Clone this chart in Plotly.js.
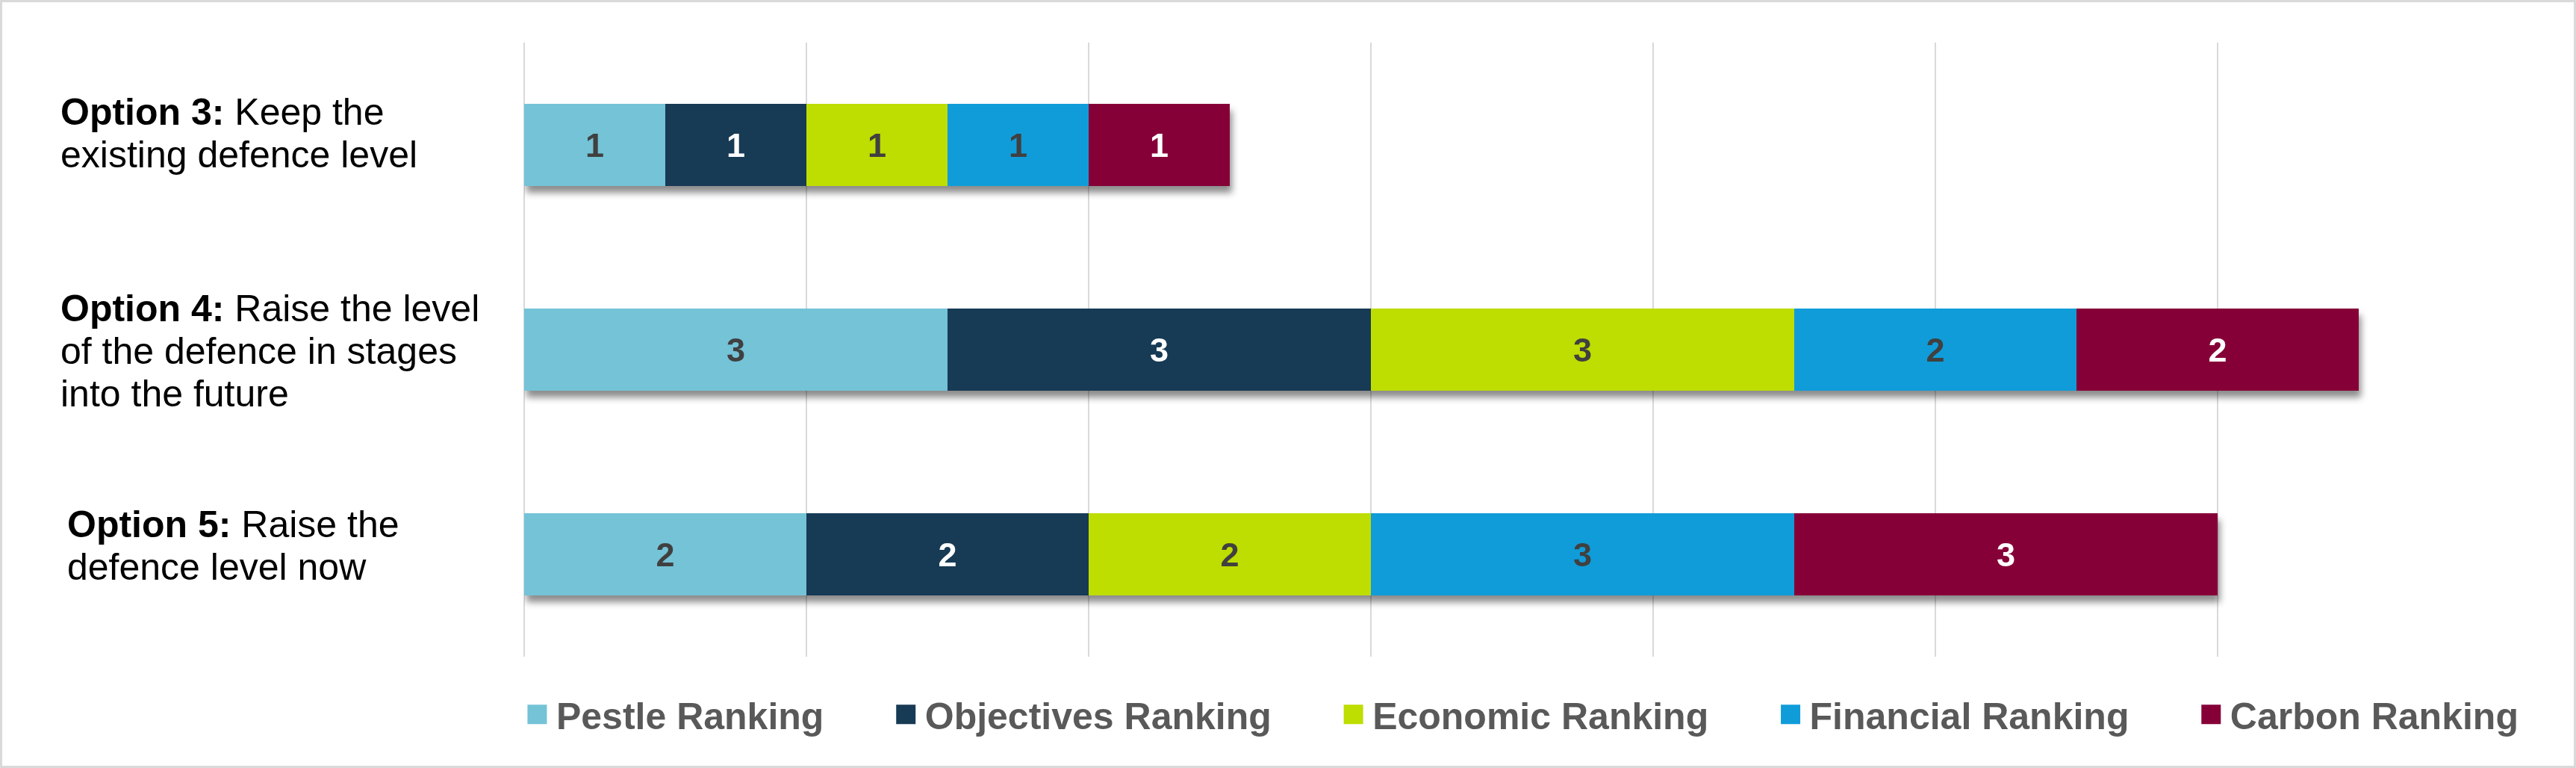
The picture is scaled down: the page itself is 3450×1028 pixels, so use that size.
<!DOCTYPE html>
<html>
<head>
<meta charset="utf-8">
<script src="https://cdn.plot.ly/plotly-3.0.1.min.js"></script>
<style>
  html, body { margin: 0; padding: 0; background: #fff; }
  #chart { width: 3450px; height: 1028px; box-sizing: border-box; border: 3px solid #d9d9d9; }
  /* soft shadow under the stacked bars */
  #chart .barlayer { filter: drop-shadow(3px 9px 5px rgba(0,0,0,0.45)); }
  /* bigger square legend swatches */
  #chart .legendpoints path { d: path("M11,13H-15V-13H11Z"); }
</style>
</head>
<body>
<div id="chart"></div>
<script>
// options (rows, top to bottom)
var options = ["Option 3", "Option 4", "Option 5"];
var optionText = [
  ["Keep the", "existing defence level"],
  ["Raise the level", "of the defence in stages", "into the future"],
  ["Raise the", "defence level now"]
];

// rankings per criterion
var pestle = [1, 3, 2];
var objectives = [1, 3, 2];
var economic = [1, 3, 2];
var financial = [1, 2, 3];
var carbon = [1, 2, 3];

var seriesNames = ["Pestle Ranking", "Objectives Ranking", "Economic Ranking", "Financial Ranking", "Carbon Ranking"];
var seriesValues = [pestle, objectives, economic, financial, carbon];
var seriesColors = ["#74c3d7", "#173a55", "#bedd00", "#109cd9", "#860038"];
var labelColors = ["#404040", "#ffffff", "#404040", "#404040", "#ffffff"];

// trailing spacing between legend entries
var pad = "\u00a0\u00a0\u00a0\u00a0\u00a0\u00a0";

var data = [];
for (var i = 0; i < seriesNames.length; i++) {
  data.push({
    type: "bar",
    orientation: "h",
    name: seriesNames[i] + (i < seriesNames.length - 1 ? pad : ""),
    y: options,
    x: seriesValues[i],
    text: seriesValues[i].map(String),
    textposition: "inside",
    insidetextanchor: "middle",
    constraintext: "none",
    textfont: { family: "Liberation Sans, Arial, sans-serif", size: 45, color: labelColors[i], weight: "bold" },
    marker: { color: seriesColors[i], line: { width: 0 } },
    hoverinfo: "name+x"
  });
}

// row labels: one annotation per line so the line spacing can follow the picture
var centerShift = [16, -2, 12];
var xShift = [0, 0, 9];
var lineStep = 57;
var annotations = [];
options.forEach(function (opt, k) {
  var lines = optionText[k];
  var n = lines.length;
  lines.forEach(function (line, j) {
    annotations.push({
      xref: "paper", yref: "y",
      x: -0.2303, y: opt,
      xanchor: "left", yanchor: "middle",
      align: "left",
      xshift: xShift[k],
      yshift: centerShift[k] + ((n - 1) / 2 - j) * lineStep,
      showarrow: false,
      text: j === 0 ? "<b>" + opt + ":</b> " + line : line,
      font: { family: "Liberation Sans, Arial, sans-serif", size: 50, color: "#000000" }
    });
  });
});

var layout = {
  width: 3444,
  height: 1022,
  margin: { l: 699, r: 40, t: 54, b: 146, pad: 0 },
  paper_bgcolor: "#ffffff",
  plot_bgcolor: "#ffffff",
  barmode: "stack",
  bargap: 0.6,
  showlegend: true,
  font: { family: "Liberation Sans, Arial, sans-serif" },
  xaxis: {
    domain: [0, 0.97819],
    range: [0, 14],
    tick0: 0,
    dtick: 2,
    showgrid: true,
    gridcolor: "#d9d9d9",
    gridwidth: 2.5,
    zeroline: true,
    zerolinecolor: "#d9d9d9",
    zerolinewidth: 2.5,
    showticklabels: false,
    ticks: "",
    showline: false,
    fixedrange: true
  },
  yaxis: {
    type: "category",
    categoryorder: "array",
    categoryarray: options,
    autorange: "reversed",
    showticklabels: false,
    showgrid: false,
    zeroline: false,
    ticks: "",
    fixedrange: true
  },
  legend: {
    orientation: "h",
    traceorder: "normal",
    itemwidth: 37,
    x: -0.0015,
    xanchor: "left",
    y: -0.094,
    yanchor: "middle",
    bgcolor: "rgba(0,0,0,0)",
    font: { family: "Liberation Sans, Arial, sans-serif", size: 50, color: "#595959", weight: "bold" }
  },
  annotations: annotations
};

Plotly.newPlot("chart", data, layout, { displayModeBar: false, staticPlot: true });
</script>
</body>
</html>
